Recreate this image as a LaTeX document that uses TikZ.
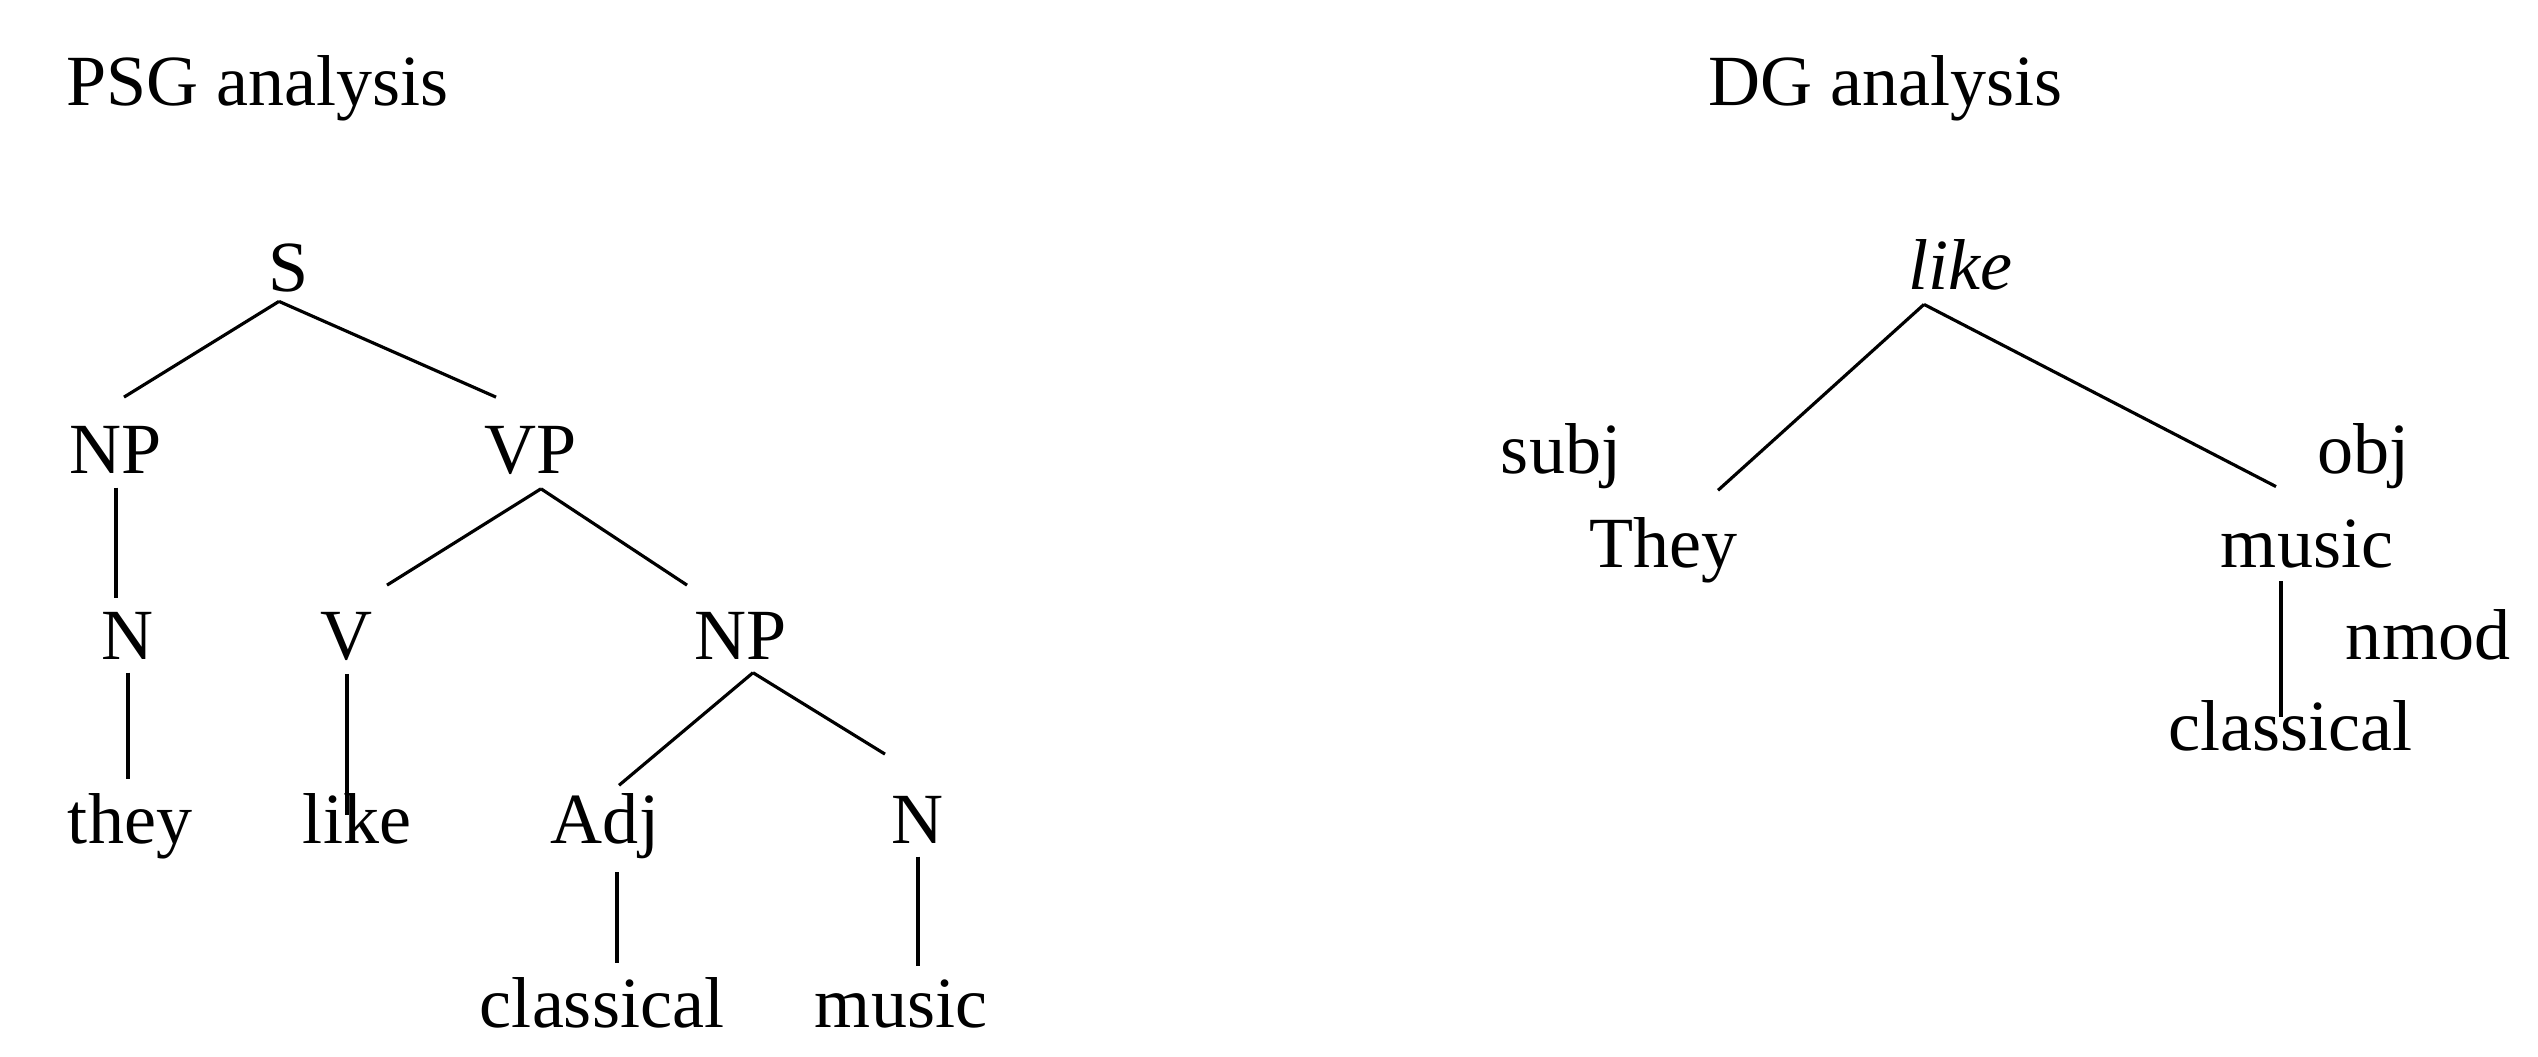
\documentclass[tikz,border=0pt]{standalone}
\usepackage{fontspec}
\setmainfont{Liberation Serif}
\usetikzlibrary{calc}

\begin{document}
\begin{tikzpicture}[x=1cm, y=1cm,
        word/.style={anchor=base, inner sep=0.13cm, font=\fontsize{20.5}{24}\selectfont},
        heading/.style={anchor=base west, inner sep=0pt, font=\fontsize{20.5}{24}\selectfont},
        edge/.style={line width=0.9pt}]
                \useasboundingbox (0,0) rectangle (25.38,10.56);

                \node[heading] (psg) at (0.66,9.50) {PSG analysis};
                \node[word] (s) at (2.89,7.64) {S};
                \node[word] (np) at (1.16,5.82) {NP};
                \node[word] (vp) at (5.31,5.82) {VP};
                \node[word] (n) at (1.28,3.97) {N};
                \node[word] (v) at (3.47,3.97) {V};
                \node[word] (npo) at (7.41,3.97) {NP};
                \node[word] (they) at (1.30,2.13) {they};
                \node[word] (like) at (3.57,2.13) {like};
                \node[word] (adj) at (6.05,2.13) {Adj};
                \node[word] (no) at (9.18,2.13) {N};
                \node[word] (classical) at (6.02,0.29) {classical};
                \node[word] (music) at (9.01,0.29) {music};

                \draw[edge] ([xshift=-0.1cm,yshift=0.05cm]s.south) -- ([xshift=0.08cm,yshift=0.16cm]np.north);
                \draw[edge] ([xshift=-0.1cm,yshift=0.05cm]s.south) -- ([xshift=-0.35cm,yshift=0.16cm]vp.north);
                \draw[edge] (np.south) -- (np.south |- n.north);
                \draw[edge] ([xshift=0.1cm]vp.south) -- ([xshift=0.4cm,yshift=0.13cm]v.north);
                \draw[edge] ([xshift=0.1cm]vp.south) -- ([xshift=-0.54cm,yshift=0.13cm]npo.north);
                \draw[edge] (n.south) -- (n.south |- they.north);
                \draw[edge] (v.south) -- ($(v.south |- like.base)+(0,0.28)$);
                \draw[edge] ([xshift=0.12cm]npo.south) -- ([xshift=0.14cm,yshift=-0.06cm]adj.north);
                \draw[edge] ([xshift=0.12cm]npo.south) -- ([xshift=-0.33cm,yshift=0.28cm]no.north);
                \draw[edge] ([xshift=0.12cm]adj.south) -- ($(adj.south |- classical.north)+(0.12,0)$);
                \draw[edge] (no.south) -- (no.south |- music.north);

                \node[heading] (dg) at (17.08,9.50) {DG analysis};
                \node[word] (likehead) at (19.60,7.66) {\textit{like}};
                \node[word] (subj) at (15.61,5.82) {subj};
                \node[word] (obj) at (23.63,5.82) {obj};
                \node[word] (theydep) at (16.63,4.89) {They};
                \node[word] (musicdep) at (23.07,4.89) {music};
                \node[word] (nmod) at (24.28,3.97) {nmod};
                \node[word] (classicaldep) at (22.90,3.06) {classical};

                \draw[edge] ([xshift=-0.36cm]likehead.south) -- ([xshift=0.55cm,yshift=0.13cm]theydep.north);
                \draw[edge] ([xshift=-0.36cm]likehead.south) -- ([xshift=-0.31cm,yshift=0.19cm]musicdep.north);
                \draw[edge] ([xshift=-0.26cm]musicdep.south) -- ($(musicdep.south |- classicaldep.base)+(-0.26,0.33)$);
            \end{tikzpicture}
\end{document}
